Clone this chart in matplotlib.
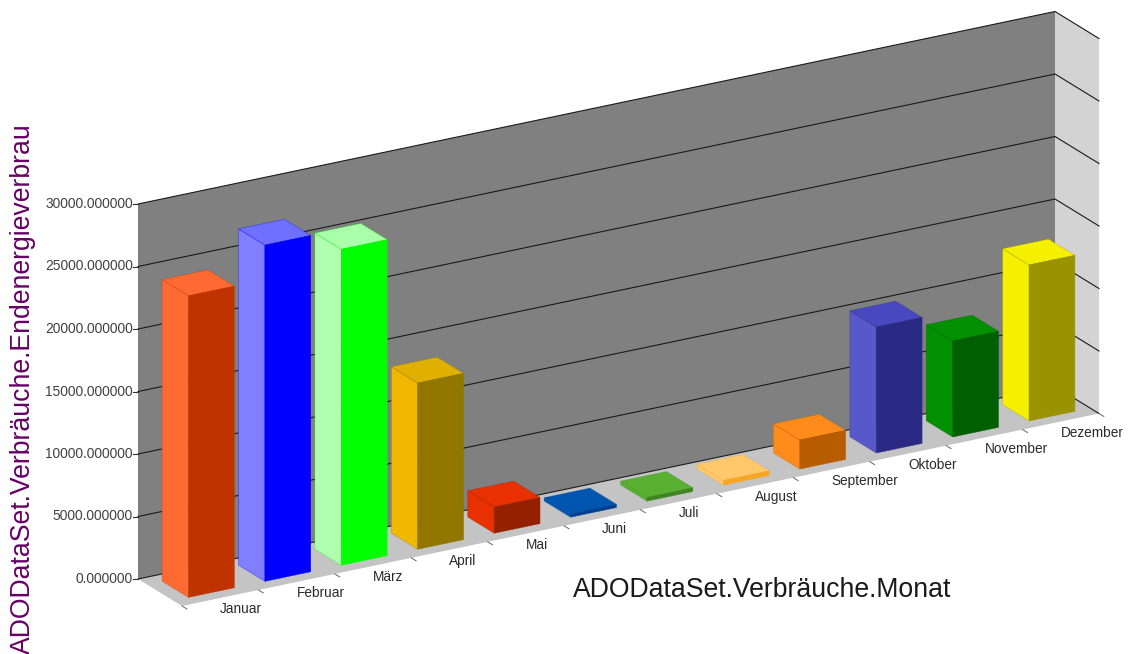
import matplotlib
matplotlib.use("Agg")
import matplotlib.pyplot as plt
from matplotlib.colors import to_rgba
from matplotlib.patches import Polygon

months = ["Januar", "Februar", "März", "April", "Mai", "Juni", "Juli",
          "August", "September", "Oktober", "November", "Dezember"]
values = [24130, 26900, 25280, 13300, 2100, 260, 300, 370, 2320, 10080, 7680, 12480]
y_ticks = [0, 5000, 10000, 15000, 20000, 25000, 30000]
left_colors = ["#FF6A33", "#8080FF", "#B0FFB0", "#F0B800", "#E83000", "#0055B0",
               "#5AB030", "#FFC86A", "#FF8C1A", "#5858C8", "#009000", "#F5F000"]
top_colors = ["#FF6A33", "#7070FF", "#AAFFAA", "#E0B000", "#E83000", "#0055B0",
              "#5AB030", "#FFC86A", "#FF8C1A", "#4848C0", "#009000", "#F5F000"]
front_colors = ["#BF3300", "#0000FF", "#00FF00", "#917600", "#952000", "#003F90",
                "#3D8520", "#F5A623", "#B85C00", "#2A2A85", "#005F00", "#999300"]
x_title = "ADODataSet.Verbräuche.Monat"
y_title = "ADODataSet.Verbräuche.Endenergieverbrau"

# Oblique projection of (category, value, depth) to figure pixels
ORIGIN = (138.0, 579.0)
RUN = (917.0, -192.5)
DEPTH = (44.0, 27.0)
PX_PER_UNIT = 375.0 / 30000.0
N = len(months)
BAR_LO, BAR_HI = 0.2, 0.8


def P(cat, val, d):
    return (ORIGIN[0] + RUN[0] * cat / N + DEPTH[0] * d,
            ORIGIN[1] + RUN[1] * cat / N + DEPTH[1] * d - val * PX_PER_UNIT)


plt.rcParams["font.family"] = ["Liberation Sans", "DejaVu Sans"]
fig = plt.figure(figsize=(11.28, 6.54), dpi=100)
ax = fig.add_axes([0, 0, 1, 1])
ax.set_xlim(0, 1128)
ax.set_ylim(654, 0)
ax.axis("off")

ymax = y_ticks[-1]


def quad(pts, fc, ec="none", lw=0.0, z=1):
    ax.add_patch(Polygon(pts, closed=True, facecolor=fc, edgecolor=ec, linewidth=lw, zorder=z))


# Walls and floor
quad([P(0, 0, 0), P(N, 0, 0), P(N, ymax, 0), P(0, ymax, 0)], "#808080")
quad([P(0, 0, 0), P(N, 0, 0), P(N, 0, 1), P(0, 0, 1)], "#C4C4C4")
quad([P(N, 0, 0), P(N, 0, 1), P(N, ymax, 1), P(N, ymax, 0)], "#D3D3D3")

# Gridlines, axis ticks and labels
for v in y_ticks:
    a, b, c = P(0, v, 0), P(N, v, 0), P(N, v, 1)
    ax.plot([a[0], b[0], c[0]], [a[1], b[1], c[1]], color="#1A1A1A", lw=0.8, zorder=2)
    ax.plot([a[0] - 5, a[0]], [a[1], a[1]], color="#333333", lw=0.8, zorder=2)
    ax.text(a[0] - 5, a[1], f"{v:.6f}", ha="right", va="center", fontsize=9.9, color="#404040")

for i in range(N + 1):
    a, b = P(i, 0, 1.0), P(i, 0, 1.11)
    ax.plot([a[0], b[0]], [a[1], b[1]], color="#666666", lw=0.7, zorder=2)

for i, m in enumerate(months):
    x, y = P(i + 0.5, 0, 1.0)
    ax.text(x, y + 11, m, ha="left", va="center", fontsize=9.8, color="#2A2A2A", zorder=6)

# Bars
for i, v in enumerate(values):
    lo, hi = i + BAR_LO, i + BAR_HI
    edge = to_rgba(front_colors[i], 0.4)
    quad([P(lo, 0, BAR_HI), P(lo, 0, BAR_LO), P(lo, v, BAR_LO), P(lo, v, BAR_HI)],
         left_colors[i], ec=edge, lw=0.5, z=3)
    quad([P(lo, v, BAR_LO), P(hi, v, BAR_LO), P(hi, v, BAR_HI), P(lo, v, BAR_HI)],
         top_colors[i], ec=edge, lw=0.5, z=3)
    quad([P(lo, 0, BAR_HI), P(hi, 0, BAR_HI), P(hi, v, BAR_HI), P(lo, v, BAR_HI)],
         front_colors[i], ec=front_colors[i], lw=0.3, z=3)

# Axis titles
ax.text(573, 590, x_title, ha="left", va="center", fontsize=19.15, color="#1A1A1A")
ax.text(30, 654, y_title, rotation=90, rotation_mode="anchor", ha="left", va="baseline",
        fontsize=19.2, color="#660066")

fig.savefig("out.png", dpi=100)
